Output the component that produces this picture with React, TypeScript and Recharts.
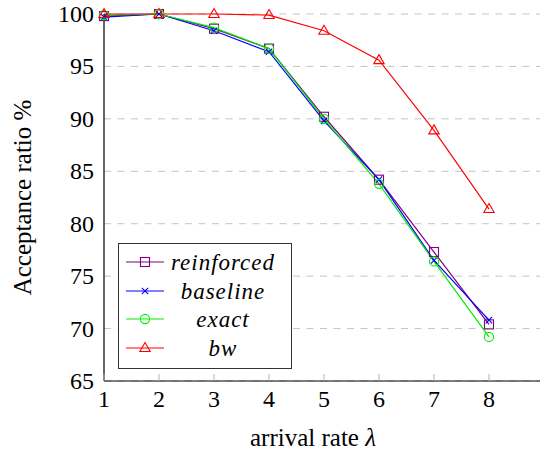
import { LineChart, Line, XAxis, YAxis, CartesianGrid, Label } from 'recharts'

const SERIF = "'Liberation Serif', 'Times New Roman', serif"

// arrival rate λ on the x axis
const lambdas = [1, 2, 3, 4, 5, 6, 7, 8]
const xTicks = [1, 2, 3, 4, 5, 6, 7, 8]
const yTicks = [65, 70, 75, 80, 85, 90, 95, 100]

// acceptance ratio % per method
const reinforced = [99.8, 100, 98.6, 96.7, 90.2, 84.2, 77.3, 70.4]
const baseline = [99.7, 100, 98.4, 96.4, 89.8, 84.2, 76.5, 70.8]
const exact = [99.9, 100, 98.7, 96.7, 90.0, 83.8, 76.4, 69.2]
const bw = [100, 100, 100, 99.9, 98.4, 95.6, 88.9, 81.4]

type MarkKind = 'square' | 'cross' | 'circle' | 'triangle'

const SERIES: { key: string; label: string; color: string; mark: MarkKind }[] = [
    { key: 'reinforced', label: 'reinforced', color: '#800080', mark: 'square' },
    { key: 'baseline', label: 'baseline', color: '#0000ff', mark: 'cross' },
    { key: 'exact', label: 'exact', color: '#00ee00', mark: 'circle' },
    { key: 'bw', label: 'bw', color: '#ff0000', mark: 'triangle' },
]

const data = lambdas.map((l, i) => ({
    lambda: l,
    reinforced: reinforced[i],
    baseline: baseline[i],
    exact: exact[i],
    bw: bw[i],
}))

const txt = { fontFamily: SERIF, fontSize: 24 }

function Marker({ kind, cx, cy, color }: { kind: MarkKind; cx: number; cy: number; color: string }) {
    const sw = 1.1
    if (kind === 'square') {
        return <rect x={cx - 4.5} y={cy - 4.5} width={9} height={9} fill="none" stroke={color} strokeWidth={sw} />
    }
    if (kind === 'circle') {
        return <circle cx={cx} cy={cy} r={4.6} fill="none" stroke={color} strokeWidth={sw} />
    }
    if (kind === 'triangle') {
        return (
            <polygon
                points={`${cx},${cy - 5.5} ${cx + 5.2},${cy + 3.5} ${cx - 5.2},${cy + 3.5}`}
                fill="none"
                stroke={color}
                strokeWidth={sw}
            />
        )
    }
    return (
        <g stroke={color} strokeWidth={sw}>
            <line x1={cx - 3.2} y1={cy - 3.2} x2={cx + 3.2} y2={cy + 3.2} />
            <line x1={cx - 3.2} y1={cy + 3.2} x2={cx + 3.2} y2={cy - 3.2} />
        </g>
    )
}

function BottomTick({ x, y, payload }: any) {
    return (
        <g>
            <line x1={x} y1={y} x2={x} y2={y - 7} stroke="#b4b4b4" strokeWidth={1} />
            <text x={x} y={y + 18} textAnchor="middle" dominantBaseline="central" style={txt} fill="#000">
                {payload.value}
            </text>
        </g>
    )
}

function TopTick({ x, y }: any) {
    return <line x1={x} y1={y} x2={x} y2={y + 7} stroke="#b4b4b4" strokeWidth={1} />
}

function LeftTick({ x, y, payload }: any) {
    return (
        <text x={x - 10} y={y} textAnchor="end" dominantBaseline="central" style={txt} fill="#000">
            {payload.value}
        </text>
    )
}

function LegendBox() {
    const rows = [19, 48, 76, 105]
    return (
        <svg width={174} height={126} style={{ position: 'absolute', left: 118, top: 243 }}>
            <rect x={0.5} y={0.5} width={173} height={125} fill="#fff" stroke="#333" strokeWidth={1} />
            {SERIES.map((s, i) => (
                <g key={s.key}>
                    <line x1={8} y1={rows[i]} x2={46} y2={rows[i]} stroke={s.color} strokeWidth={1.2} />
                    <Marker kind={s.mark} cx={27} cy={rows[i]} color={s.color} />
                    <text
                        x={105}
                        y={rows[i]}
                        textAnchor="middle"
                        dominantBaseline="central"
                        style={{ fontFamily: SERIF, fontStyle: 'italic', fontSize: 23, letterSpacing: 1 }}
                        fill="#000"
                    >
                        {s.label}
                    </text>
                </g>
            ))}
        </svg>
    )
}

export default function App() {
    return (
        <div style={{ position: 'absolute', left: 0, top: 0, width: 540, height: 457, overflow: 'hidden', background: '#fff' }}>
            <LineChart width={560} height={457} data={data} margin={{ top: 14, right: 16, bottom: 0, left: 0 }}>
                <CartesianGrid vertical={false} stroke="#c4c4c4" strokeDasharray="7 6.5" />
                <XAxis
                    dataKey="lambda"
                    type="number"
                    domain={[1, 9]}
                    ticks={xTicks}
                    interval={0}
                    height={76}
                    tickSize={0}
                    tickMargin={0}
                    tickLine={false}
                    axisLine={{ stroke: '#000', strokeWidth: 1.2 }}
                    tick={<BottomTick />}
                >
                    <Label
                        content={({ viewBox }: any) => (
                            <text
                                x={viewBox.x + viewBox.width / 2 - 11}
                                y={viewBox.y + 56}
                                textAnchor="middle"
                                dominantBaseline="central"
                                style={{ fontFamily: SERIF, fontSize: 25 }}
                                fill="#000"
                            >
                                arrival rate <tspan fontStyle="italic">λ</tspan>
                            </text>
                        )}
                    />
                </XAxis>
                <XAxis
                    xAxisId="top"
                    orientation="top"
                    dataKey="lambda"
                    type="number"
                    domain={[1, 9]}
                    ticks={xTicks}
                    interval={0}
                    height={0}
                    tickSize={0}
                    tickMargin={0}
                    tickLine={false}
                    axisLine={{ stroke: '#000', strokeWidth: 1.2 }}
                    tick={<TopTick />}
                />
                <YAxis
                    type="number"
                    domain={[65, 100]}
                    ticks={yTicks}
                    interval={0}
                    width={104}
                    tickSize={0}
                    tickMargin={0}
                    tickLine={false}
                    axisLine={{ stroke: '#000', strokeWidth: 1.2 }}
                    tick={<LeftTick />}
                >
                    <Label
                        content={({ viewBox }: any) => {
                            const cx = viewBox.x + 22
                            const cy = viewBox.y + viewBox.height / 2
                            return (
                                <text
                                    x={cx}
                                    y={cy}
                                    transform={`rotate(-90 ${cx} ${cy})`}
                                    textAnchor="middle"
                                    dominantBaseline="central"
                                    style={{ fontFamily: SERIF, fontSize: 25 }}
                                    fill="#000"
                                >
                                    Acceptance ratio %
                                </text>
                            )
                        }}
                    />
                </YAxis>
                {SERIES.map((s) => (
                    <Line
                        key={s.key}
                        dataKey={s.key}
                        stroke={s.color}
                        strokeWidth={1.2}
                        isAnimationActive={false}
                        dot={(p: any) => <Marker key={`${s.key}-${p.index}`} kind={s.mark} cx={p.cx} cy={p.cy} color={s.color} />}
                        activeDot={false}
                    />
                ))}
            </LineChart>
            <LegendBox />
        </div>
    )
}
